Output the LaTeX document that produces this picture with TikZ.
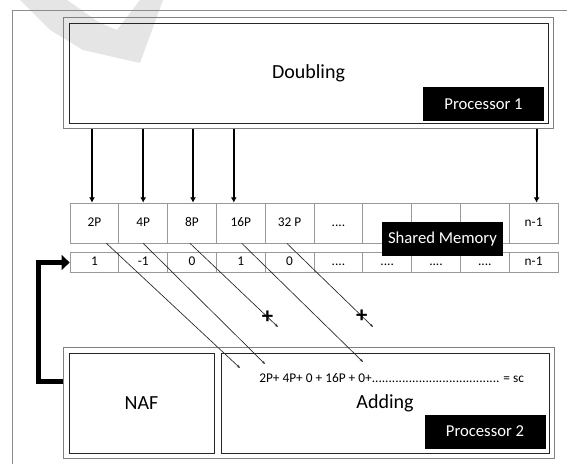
\documentclass[tikz,border=0pt]{standalone}
\usepackage{fontspec}
\setmainfont{Carlito}
\usetikzlibrary{arrows.meta,fit}

\newcommand{\dotrun}{....}

\begin{document}
\begin{tikzpicture}[x=0.75pt, y=-0.75pt,
    frame/.style={draw=black!45, line width=0.6pt},
    panel/.style={draw=black!85, line width=0.7pt, inner sep=0pt},
    rim/.style={draw=black!50, line width=0.7pt, inner sep=3.5pt},
    tag/.style={fill=black, text=white, inner sep=0pt, minimum width=90.75pt,
        minimum height=25.5pt, font=\fontsize{12.5}{14}\selectfont},
    big/.style={font=\fontsize{15}{18}\selectfont},
    cell/.style={draw=black!40, line width=0.5pt, minimum width=36.6pt,
        inner sep=0pt, text height=6.8pt, text depth=1.6pt,
        font=\fontsize{10}{12}\selectfont},
    feed/.style={line width=1.5pt, -{Latex[length=4pt,width=4.5pt]}},
    diag/.style={black!85, line width=0.5pt, -{Stealth[length=2.5pt,width=2pt]}},
    drop/.style={text=black, font=\bfseries\fontsize{17}{17}\selectfont, inner sep=0pt}]
    \useasboundingbox (0,0) rectangle (567,464);

    % faded mark in the corner
    \fill[black!10] (20,0) -- (67,0) -- (100,23) -- (117,30) -- (140,0) -- (163,0)
        -- (140,63) -- (83,50) -- (50,30) -- cycle;
    % frame
    \draw[frame] (12,464) -- (12,10) -- (567,10);

    % Processor 1
    \node[panel, big, minimum width=359.25pt, minimum height=75pt]
        (dbl) at (308.5,73) {Doubling};
    \node[rim, fit=(dbl)] (dblrim) {};
    \node[tag] (p1) at (483.5,104) {Processor 1};

    % Shared memory: points and NAF digits
    \foreach \lab [count=\i] in {2P,4P,8P,16P,32 P,\dotrun,,,,n-1}
        \node[cell, minimum height=30pt] (m\i) at (45.6+48.8*\i,223) {\lab};
    \foreach \lab [count=\i] in {1,-1,0,1,0,\dotrun,\dotrun,\dotrun,\dotrun,n-1}
        \node[cell, minimum height=14.6pt] (d\i) at (45.6+48.8*\i,262.5) {\lab};

    % doubled points go down to memory
    \foreach \i/\dx in {1/-1.8,2/0,3/0.75,4/-5.25,10/2.25}{
        \coordinate (t\i) at ([xshift=\dx pt]m\i.north);
        \draw[feed] (t\i |- dblrim.south) -- (t\i);
    }

    % Processor 2
    \node[panel, big, minimum width=108.75pt, minimum height=75pt]
        (naf) at (141.5,403) {NAF};
    \node[panel, big, minimum width=246pt, minimum height=75pt]
        (add) at (385,403) {Adding};
    \node[rim, fit=(naf)(add)] (addrim) {};
    \node[tag] (p2) at (485,431.5) {Processor 2};
    \node[anchor=west, inner sep=0pt, font=\fontsize{10}{12}\selectfont]
        (sum) at (259,378)
        {2P+ 4P+ 0 + 16P + 0+...................................... = sc};

    % NAF digits written back
    \draw[line width=3.75pt, -{Triangle[length=6pt,width=11pt]}]
        ([yshift=16.5pt]addrim.west) -- ++(-25,0) |- (d1.west);

    % terms picked up by the adder
    \coordinate (e1) at (240,368);
    \coordinate (e2) at (265,364);
    \coordinate (x1) at (278,327);
    \coordinate (e3) at (363,362);
    \coordinate (x2) at (373,327);
    \draw[diag] ([xshift=9pt]m1.south) -- (e1);
    \draw[diag] (m2.south) -- (e2);
    \draw[diag] ([xshift=-1.5pt]m3.south) -- (x1)
        node[drop, pos=0.88] (s1) {+};
    \draw[diag] ([xshift=0.75pt]m4.south) -- (e3);
    \draw[diag] ([xshift=-2.1pt]m5.south) -- (x2)
        node[drop, pos=0.87] (s2) {+};

    \node[tag] (shm) at (442.5,239) {Shared Memory};
\end{tikzpicture}
\end{document}
